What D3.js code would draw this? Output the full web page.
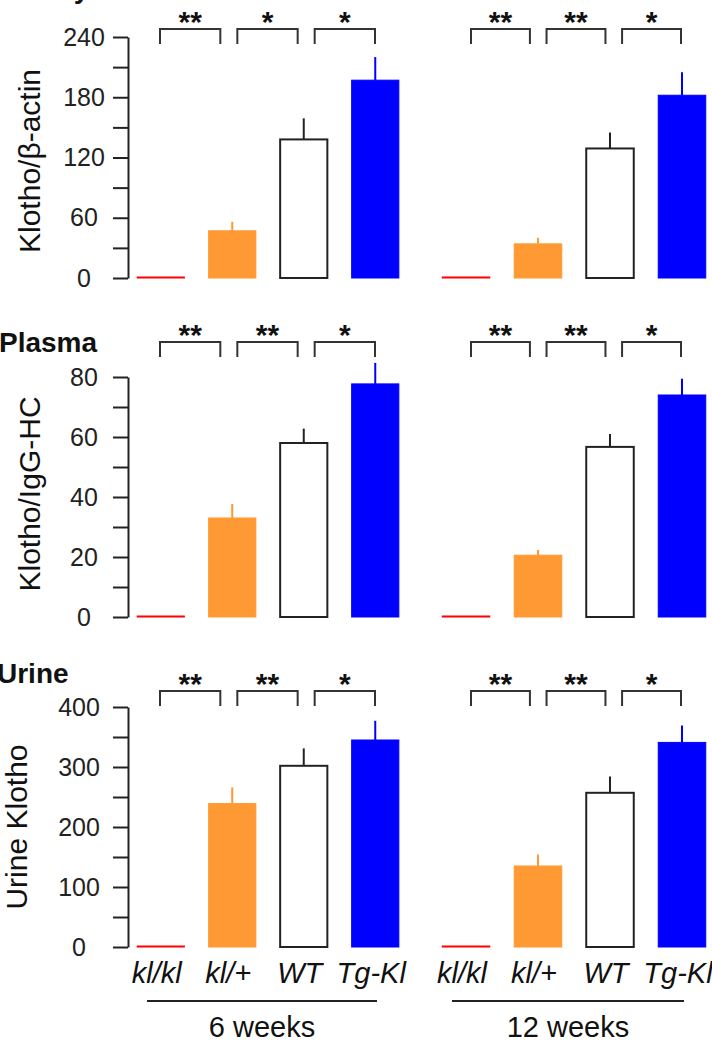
<!DOCTYPE html>
<meta charset="UTF-8">
<style>
body { margin: 0; background: #fff; }
text { font-family: "Liberation Sans", Arial, sans-serif; fill: #111; }
.axis path, .axis line { stroke: #222; stroke-width: 2px; }
.bracket { fill: none; stroke: #333; stroke-width: 2px; }
</style>
<body>
<script src="https://d3js.org/d3.v7.min.js"></script>
<script>

// genotypes on the x axis
var groups = ["kl/kl", "kl/+", "WT", "Tg-Kl"];
var ages = ["6 weeks", "12 weeks"];

// Kidney: Klotho/beta-actin (mean, SE)
var kidney6 = [0, 47, 138, 197];
var kidney6Err = [0, 9, 21, 23];
var kidney12 = [1, 34, 129, 182];
var kidney12Err = [0, 6, 16, 23];

// Plasma: Klotho/IgG-HC
var plasma6 = [0, 33, 58, 77.7];
var plasma6Err = [0, 4.7, 4.8, 7];
var plasma12 = [0.3, 20.6, 56.7, 74];
var plasma12Err = [0, 1.7, 4.3, 5.4];

// Urine Klotho
var urine6 = [0, 239, 302, 345];
var urine6Err = [0, 27, 29, 32];
var urine12 = [0, 135, 257, 341];
var urine12Err = [0, 19, 27, 28];

// significance between neighbouring groups
var kidneySig6 = ["**", "*", "*"];
var kidneySig12 = ["**", "**", "*"];
var plasmaSig6 = ["**", "**", "*"];
var plasmaSig12 = ["**", "**", "*"];
var urineSig6 = ["**", "**", "*"];
var urineSig12 = ["**", "**", "*"];

// y ticks (minor + labelled)
var kidneyTicks = [0, 30, 60, 90, 120, 150, 180, 210, 240];
var kidneyLabels = [0, 60, 120, 180, 240];
var plasmaTicks = [0, 10, 20, 30, 40, 50, 60, 70, 80];
var plasmaLabels = [0, 20, 40, 60, 80];
var urineTicks = [0, 50, 100, 150, 200, 250, 300, 350, 400];
var urineLabels = [0, 100, 200, 300, 400];

var fills = ["#ff0000", "#ff9933", "#ffffff", "#0000ff"];
var strokes = ["#ff0000", "#ff9933", "#222222", "#0000ff"];

var rows = [
  {panel: "Kidney", title: "Klotho/\u03b2-actin", ticks: kidneyTicks, labels: kidneyLabels,
   values: [kidney6, kidney12], errs: [kidney6Err, kidney12Err], sigs: [kidneySig6, kidneySig12],
   bottom: 278, top: 37, bracketY: 29, titleX: 40, titleY: 161, tickX: 84, panelX: -4, panelY: -2},
  {panel: "Plasma", title: "Klotho/IgG-HC", ticks: plasmaTicks, labels: plasmaLabels,
   values: [plasma6, plasma12], errs: [plasma6Err, plasma12Err], sigs: [plasmaSig6, plasmaSig12],
   bottom: 617, top: 377, bracketY: 342, titleX: 40, titleY: 494, tickX: 84, panelX: -1, panelY: 352},
  {panel: "Urine", title: "Urine Klotho", ticks: urineTicks, labels: urineLabels,
   values: [urine6, urine12], errs: [urine6Err, urine12Err], sigs: [urineSig6, urineSig12],
   bottom: 947, top: 707, bracketY: 691, titleX: 27, titleY: 827, tickX: 79, panelX: -3, panelY: 683}
];

var axisX = 128;
var xRanges = [[125, 411], [430, 718]];
var bracketRanges = [[160, 375], [471, 681]];

var svg = d3.select("body").append("svg")
    .attr("width", 712)
    .attr("height", 1043);

rows.forEach(function(row) {
  var y = d3.scaleLinear()
      .domain([0, d3.max(row.ticks)])
      .range([row.bottom, row.top]);

  // panel name, bold, partly off the left edge as in the figure
  svg.append("text")
      .attr("x", row.panelX)
      .attr("y", row.panelY)
      .style("font-size", "28px")
      .style("font-weight", "bold")
      .text(row.panel);

  // y axis
  var axis = d3.axisLeft(y)
      .tickValues(row.ticks)
      .tickSize(15)
      .tickSizeOuter(0)
      .tickFormat(function(d) { return row.labels.indexOf(d) >= 0 ? d : ""; });

  var g = svg.append("g")
      .attr("class", "axis")
      .attr("transform", "translate(" + axisX + ",0)")
      .call(axis);
  g.selectAll("text")
      .attr("x", row.tickX - axisX)
      .attr("text-anchor", "middle")
      .style("font-size", "25px")
      .style("font-family", "'Liberation Sans', Arial, sans-serif")
      .style("fill", "#222");

  svg.append("text")
      .attr("transform", "translate(" + row.titleX + "," + row.titleY + ") rotate(-90)")
      .attr("text-anchor", "middle")
      .style("font-size", "30px")
      .text(row.title);

  ages.forEach(function(age, a) {
    var x = d3.scaleBand()
        .domain(groups)
        .range(xRanges[a])
        .paddingInner(0.34)
        .paddingOuter(0.17);

    var vals = row.values[a], errs = row.errs[a];

    // error bars (upper half only)
    svg.selectAll(null)
        .data(groups.filter(function(d, i) { return errs[i] > 0; }))
      .enter().append("line")
        .attr("x1", function(d) { return x(d) + x.bandwidth() / 2; })
        .attr("x2", function(d) { return x(d) + x.bandwidth() / 2; })
        .attr("y1", function(d) { return y(vals[groups.indexOf(d)]); })
        .attr("y2", function(d) { var i = groups.indexOf(d); return y(vals[i] + errs[i]); })
        .attr("stroke", function(d) { return strokes[groups.indexOf(d)]; })
        .attr("stroke-width", 2);

    // bars
    svg.selectAll(null)
        .data(groups)
      .enter().append("rect")
        .attr("x", function(d) { return x(d); })
        .attr("width", x.bandwidth())
        .attr("y", function(d, i) { return Math.min(y(vals[i]), y(0) - 1); })
        .attr("height", function(d, i) { return Math.max(1, y(0) - y(vals[i])); })
        .attr("fill", function(d, i) { return fills[i]; })
        .attr("stroke", function(d, i) { return strokes[i]; })
        .attr("stroke-width", function(d, i) { return i == 2 ? 2 : 1; });

    // significance brackets
    var bx = d3.scaleBand()
        .domain([0, 1, 2])
        .range(bracketRanges[a])
        .paddingInner(0.22);

    row.sigs[a].forEach(function(s, k) {
      var x0 = bx(k), x1 = bx(k) + bx.bandwidth();
      svg.append("path")
          .attr("class", "bracket")
          .attr("d", "M" + x0 + "," + (row.bracketY + 15) + "V" + row.bracketY +
                     "H" + x1 + "V" + (row.bracketY + 15));
      svg.append("text")
          .attr("x", (x0 + x1) / 2)
          .attr("y", row.bracketY + 3)
          .attr("text-anchor", "middle")
          .style("font-size", "30px")
          .style("font-weight", "bold")
          .text(s);
    });

    // group labels on the bottom row only
    if (row.panel == "Urine") {
      svg.selectAll(null)
          .data(groups)
        .enter().append("text")
          .attr("x", function(d) { return x(d) + x.bandwidth() / 2 - 4; })
          .attr("y", 983)
          .attr("text-anchor", "middle")
          .style("font-size", "29px")
          .style("font-style", "italic")
          .text(function(d) { return d; });

      var r = xRanges[a];
      svg.append("line")
          .attr("x1", r[0] + 22).attr("x2", r[1] - 34)
          .attr("y1", 1001).attr("y2", 1001)
          .attr("stroke", "#222").attr("stroke-width", 2);

      svg.append("text")
          .attr("x", (r[0] + 22 + r[1] - 34) / 2)
          .attr("y", 1037)
          .attr("text-anchor", "middle")
          .style("font-size", "29px")
          .text(age);
    }
  });
});

</script>
</body>
